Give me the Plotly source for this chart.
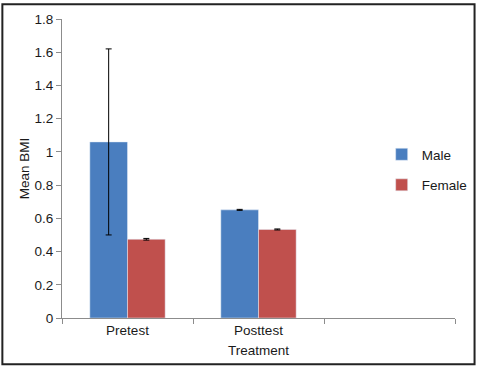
import plotly.graph_objects as go

categories = ["Pretest", "Posttest", " "]
male = [1.06, 0.651, None]
female = [0.474, 0.533, None]
male_err = [0.56, 0.003, 0]
female_err = [0.005, 0.003, 0]
y_ticks = [0, 0.2, 0.4, 0.6, 0.8, 1, 1.2, 1.4, 1.6, 1.8]

W, H = 485, 368
L, R, T, B = 62, 21, 16, 48
pw, ph = W - L - R, H - T - B

font = dict(family="Liberation Sans, Arial, sans-serif", size=13.5, color="#1a1a1a")

fig = go.Figure()
fig.add_trace(go.Bar(
    x=categories, y=male, name="Male", marker_color="#4a7ebf",
    error_y=dict(type="data", array=male_err, color="black", thickness=1, width=3),
    legendgroup="m",
))
fig.add_trace(go.Bar(
    x=categories, y=female, name="Female", marker_color="#c0504d",
    error_y=dict(type="data", array=female_err, color="black", thickness=1, width=3),
    legendgroup="f",
))

def px_x(p):
    return (p - L) / pw

def px_y(p):
    return 1 - (p - T) / ph

fig.update_layout(
    width=W, height=H,
    margin=dict(l=L, r=R, t=T, b=B, pad=0),
    paper_bgcolor="white", plot_bgcolor="white",
    font=font,
    barmode="group", bargap=0.425, bargroupgap=0,
    showlegend=True,
    legend=dict(x=px_x(389), y=px_y(138), xanchor="left", yanchor="top",
                tracegroupgap=10, font=dict(size=13.5), itemwidth=30,
                bgcolor="rgba(0,0,0,0)"),
    xaxis=dict(
        type="category", categoryorder="array", categoryarray=categories,
        range=[-0.5, 2.5], tickson="boundaries", ticks="outside", ticklen=5,
        tickcolor="#8c8c8c", showline=True, linecolor="#8c8c8c", linewidth=1,
        showgrid=False, zeroline=False,
        title=dict(text="Treatment", standoff=8, font=dict(size=13.5)),
        tickfont=dict(size=13.5),
    ),
    yaxis=dict(
        range=[0, 1.8], tickvals=y_ticks, ticktext=[f"{v:g}" for v in y_ticks],
        ticks="outside", ticklen=5, tickcolor="#8c8c8c",
        showline=True, linecolor="#8c8c8c", linewidth=1,
        showgrid=False, zeroline=False,
        title=dict(text="Mean BMI", standoff=1, font=dict(size=13.5)),
        tickfont=dict(size=13.5),
    ),
    shapes=[dict(type="rect", xref="paper", yref="paper",
                 x0=px_x(1), x1=px_x(484), y0=px_y(1), y1=px_y(367),
                 line=dict(color="#222", width=2), fillcolor="rgba(0,0,0,0)",
                 layer="above")],
)
fig.write_html(
    "out.html",
    config={"displayModeBar": False},
    post_script=(
        "document.documentElement.style.margin='0';"
        "document.documentElement.style.overflow='hidden';"
        "document.body.style.margin='0';document.body.style.padding='0';"
        "document.body.style.overflow='hidden';"
    ),
)
